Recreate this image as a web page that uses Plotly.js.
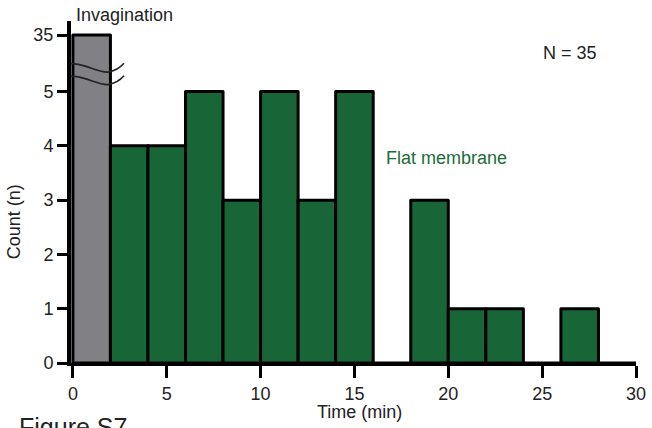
<!DOCTYPE html>
<html>
<head>
<meta charset="utf-8">
<script src="https://cdn.plot.ly/plotly-3.0.1.min.js"></script>
<style>html,body{margin:0;padding:0;background:#fff;}#chart{width:652px;height:428px;}
#chart .bars path{stroke-linejoin:round;}</style>
</head>
<body>
<div id="chart"></div>
<script>
// Bin centers (min) and counts
const invagBins = [1];
const invagCounts = [35];
const flatBins = [3, 5, 7, 9, 11, 13, 15, 17, 19, 21, 23, 25, 27, 29];
const flatCounts = [4, 4, 5, 3, 5, 3, 5, 0, 3, 1, 1, 0, 1, 0];
const yTickVals = [0, 1, 2, 3, 4, 5, 35];
const xTickVals = [0, 5, 10, 15, 20, 25, 30];

// broken axis: values above 5 are drawn at the break position
const BREAK_POS = 6.04;
const disp = v => (v <= 5 ? v : BREAK_POS);

const FONT = 'Liberation Sans, Arial, sans-serif';
const GREEN = '#186638';
const GRAY = '#808085';
const TXT = '#222';

const traces = [
  {
    type: 'bar', x: invagBins, y: invagCounts.map(disp), width: 2,
    marker: {color: GRAY, line: {color: '#000', width: 3}},
    hoverinfo: 'skip', showlegend: false
  },
  {
    type: 'bar', x: flatBins, y: flatCounts.map(disp), width: 2,
    marker: {color: GREEN, line: {color: '#000', width: 3}},
    hoverinfo: 'skip', showlegend: false
  }
];

function wave(y0) {
  return `M -0.96,${y0} Q -0.5,${y0 + 0.17} 0.1,${y0 + 0.15} C 0.8,${y0 + 0.13} 1.4,${y0 - 0.02} 1.9,${y0} Q 2.4,${y0 + 0.03} 2.72,${y0 + 0.16}`;
}

const layout = {
  width: 652, height: 428,
  margin: {l: 71, r: 16, t: 21, b: 65},
  paper_bgcolor: '#fff', plot_bgcolor: '#fff',
  bargap: 0,
  font: {family: FONT, color: TXT, size: 18},
  xaxis: {
    range: [-0.1, 30], tickvals: xTickVals, ticktext: xTickVals.map(String),
    showline: true, linecolor: '#000', linewidth: 3,
    ticks: 'outside', ticklen: 12, tickwidth: 3, tickcolor: '#000',
    showgrid: false, zeroline: false,
    tickfont: {size: 18, family: FONT, color: TXT}
  },
  yaxis: {
    range: [0, 6.3], tickvals: yTickVals.map(disp), ticktext: yTickVals.map(String),
    showline: true, linecolor: '#000', linewidth: 4,
    ticks: 'outside', ticklen: 10, tickwidth: 3, tickcolor: '#000',
    showgrid: false, zeroline: false,
    tickfont: {size: 18, family: FONT, color: TXT}
  },
  shapes: [
    {type: 'path', xref: 'x', yref: 'y', path: wave(5.36), line: {color: '#222', width: 1.6}, layer: 'above'},
    {type: 'path', xref: 'x', yref: 'y', path: wave(5.13), line: {color: '#222', width: 1.6}, layer: 'above'}
  ],
  annotations: [
    {xref: 'x', yref: 'paper', x: 0.08, y: 1.0175, xanchor: 'left', yanchor: 'middle', showarrow: false,
     text: 'Invagination', font: {size: 18, family: FONT, color: TXT}},
    {xref: 'x', yref: 'y', x: 26.5, y: 5.71, xanchor: 'center', yanchor: 'middle', showarrow: false,
     text: 'N = 35', font: {size: 18, family: FONT, color: TXT}},
    {xref: 'x', yref: 'y', x: 16.6, y: 3.78, xanchor: 'left', yanchor: 'middle', showarrow: false,
     text: 'Flat membrane', font: {size: 18, family: FONT, color: '#1c6b3a'}},
    {xref: 'x', yref: 'paper', x: 15.25, y: -0.143, xanchor: 'center', yanchor: 'middle', showarrow: false,
     text: 'Time (min)', font: {size: 18, family: FONT, color: TXT}},
    {xref: 'paper', yref: 'y', x: -0.101, y: 2.61, xanchor: 'center', yanchor: 'middle', showarrow: false,
     textangle: -90, text: 'Count (n)', font: {size: 18, family: FONT, color: TXT}},
    {xref: 'paper', yref: 'paper', x: -0.0959, y: -0.186, xanchor: 'left', yanchor: 'middle', showarrow: false,
     text: 'Figure S7', font: {size: 25, family: FONT, color: TXT}}
  ]
};

Plotly.newPlot('chart', traces, layout, {displayModeBar: false, staticPlot: true});
</script>
</body>
</html>
